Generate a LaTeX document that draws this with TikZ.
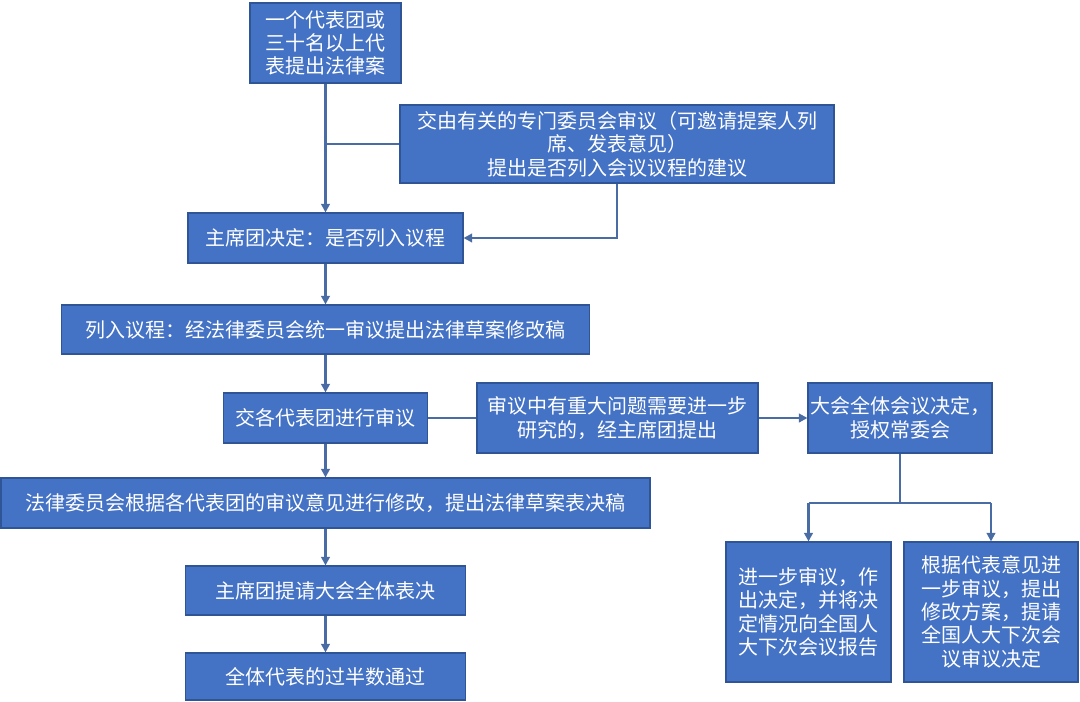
\documentclass[tikz,border=0pt]{standalone}
\usepackage{fontspec}
\newfontfamily\cjk{Noto Sans CJK SC}
\usetikzlibrary{arrows.meta}
\definecolor{boxfill}{HTML}{4472C4}
\definecolor{boxline}{HTML}{2F5597}
\definecolor{connc}{HTML}{4A6CA5}
\begin{document}
\begin{tikzpicture}[x=0.75pt,y=-0.75pt,
  box/.style={draw=boxline,line width=0.8pt,fill=boxfill,text=white,align=center,inner sep=0pt,
    font=\cjk\fontsize{15pt}{17.5pt}\selectfont},
  sz/.style 2 args={minimum width=#1*0.75pt,minimum height=#2*0.75pt},
  conn/.style={draw=connc,line width=2pt},
  arr/.style={conn,-{Triangle[length=6.5pt,width=6.5pt]}}]
\useasboundingbox (0,0) rectangle (1080,702);
\fill[white] (0,0) rectangle (1080,702);

\node[box,sz={151}{80}] (b1) at (325.5,43) {一个代表团或\\三十名以上代\\表提出法律案};
\node[box,sz={434}{78}] (b2) at (617,144) {交由有关的专门委员会审议（可邀请提案人列\\席、发表意见）\\提出是否列入会议议程的建议};
\node[box,sz={275}{50}] (b3) at (325.5,238) {主席团决定：是否列入议程};
\node[box,sz={528}{49}] (b4) at (325.5,329.5) {列入议程：经法律委员会统一审议提出法律草案修改稿};
\node[box,sz={204}{50}] (b5) at (325.5,418) {交各代表团进行审议};
\node[box,sz={281}{70}] (b6) at (617.5,418) {审议中有重大问题需要进一步\\研究的，经主席团提出};
\node[box,sz={184}{70}] (b7) at (900,418) {大会全体会议决定，\\授权常委会};
\node[box,sz={165}{140}] (b8) at (808.5,612) {进一步审议，作\\出决定，并将决\\定情况向全国人\\大下次会议报告};
\node[box,sz={174}{140}] (b9) at (991,612) {根据代表意见进\\一步审议，提出\\修改方案，提请\\全国人大下次会\\议审议决定};
\node[box,sz={649}{50}] (b10) at (325.5,503) {法律委员会根据各代表团的审议意见进行修改，提出法律草案表决稿};
\node[box,sz={280}{49}] (b11) at (325.5,590.5) {主席团提请大会全体表决};
\node[box,sz={280}{47}] (b12) at (325.5,676.5) {全体代表的过半数通过};

\draw[arr] (b1) -- (b3);
\draw[conn] (b2.west) -- (b2.west -| b1.south);
\draw[arr] (b2.south) |- (b3.east);
\draw[arr] (b3) -- (b4);
\draw[arr] (b4) -- (b5);
\draw[arr] (b5) -- (b10);
\draw[arr] (b10) -- (b11);
\draw[arr] (b11) -- (b12);
\draw[conn] (b5.east) -- (b6.west);
\draw[arr] (b6.east) -- (b7.west);
\coordinate (jl) at (808.5,503);
\coordinate (jr) at (991,503);
\draw[conn] (b7.south) -- (b7.south |- jl);
\draw[conn] (jl) -- (jr);
\draw[arr] (jl) -- (b8.north);
\draw[arr] (jr) -- (b9.north);
\end{tikzpicture}
\end{document}
